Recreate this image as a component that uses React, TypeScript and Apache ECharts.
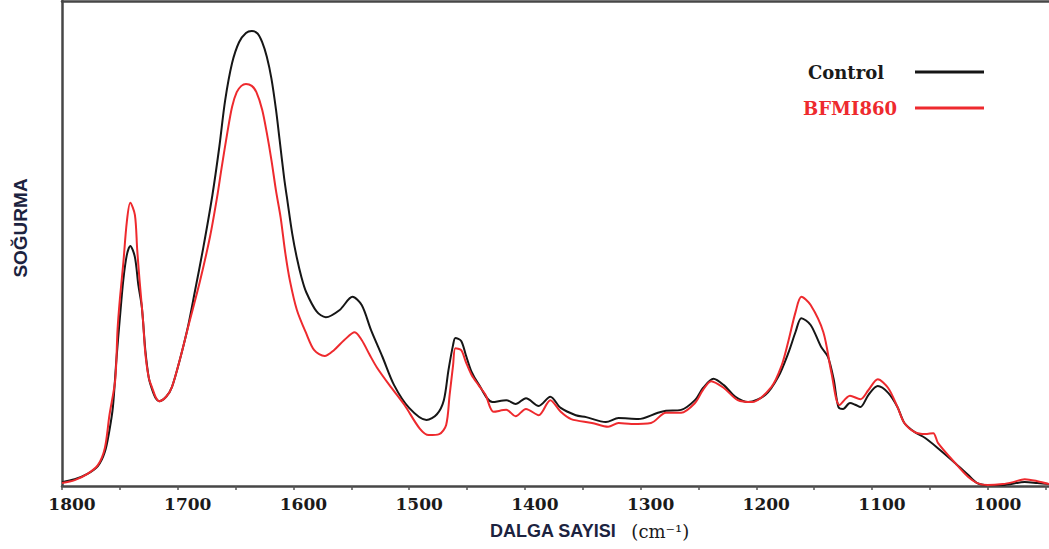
import React, { useEffect, useRef } from "react";
import * as echarts from "echarts";

// FTIR spectra: wavenumber (cm-1) vs absorbance (arbitrary units, 0..1)
const controlSpectrum: [number, number][] = [
  [1800, 0.008], [1789, 0.014], [1778, 0.025], [1769, 0.041], [1763, 0.07], [1759, 0.115],
  [1756, 0.163], [1753, 0.26], [1750, 0.346], [1747, 0.425], [1744, 0.476], [1741, 0.495],
  [1737, 0.472], [1734, 0.414], [1731, 0.369], [1728, 0.28], [1725, 0.223], [1722, 0.198],
  [1719, 0.181], [1716, 0.175], [1710, 0.184], [1705, 0.204], [1698, 0.262], [1691, 0.33],
  [1685, 0.403], [1678, 0.49], [1670, 0.6], [1664, 0.7], [1659, 0.795], [1653, 0.872],
  [1647, 0.915], [1641, 0.934], [1636, 0.938], [1631, 0.933], [1627, 0.915], [1623, 0.885],
  [1619, 0.84], [1615, 0.775], [1612, 0.715], [1608, 0.635], [1605, 0.585], [1601, 0.52],
  [1597, 0.47], [1593, 0.43], [1589, 0.4], [1580, 0.36], [1572, 0.348], [1560, 0.363],
  [1549, 0.39], [1541, 0.373], [1533, 0.322], [1523, 0.266], [1513, 0.208], [1500, 0.161],
  [1485, 0.136], [1476, 0.148], [1470, 0.177], [1466, 0.239], [1462, 0.291], [1460, 0.305],
  [1455, 0.299], [1451, 0.27], [1446, 0.235], [1440, 0.21], [1428, 0.173], [1416, 0.177],
  [1408, 0.169], [1399, 0.181], [1388, 0.165], [1378, 0.184], [1369, 0.161], [1356, 0.146],
  [1347, 0.142], [1330, 0.132], [1319, 0.14], [1302, 0.138], [1285, 0.151], [1278, 0.155],
  [1265, 0.157], [1253, 0.177], [1246, 0.202], [1237, 0.221], [1228, 0.208], [1218, 0.184],
  [1207, 0.173], [1192, 0.188], [1181, 0.225], [1172, 0.276], [1166, 0.318], [1161, 0.346],
  [1153, 0.332], [1144, 0.287], [1138, 0.266], [1133, 0.219], [1129, 0.163], [1125, 0.159],
  [1119, 0.171], [1114, 0.167], [1110, 0.163], [1103, 0.188], [1095, 0.206], [1086, 0.192],
  [1078, 0.163], [1072, 0.13], [1063, 0.111], [1054, 0.099], [1043, 0.078], [1028, 0.047],
  [1017, 0.023], [1009, 0.006], [1000, 0.002], [987, 0.002], [968, 0.008], [957, 0.006],
  [947, 0.004],
];

const bfmiSpectrum: [number, number][] = [
  [1800, 0.006], [1789, 0.012], [1778, 0.025], [1769, 0.043], [1763, 0.078], [1759, 0.146],
  [1754, 0.219], [1752, 0.322], [1750, 0.385], [1747, 0.46], [1744, 0.544], [1741, 0.584],
  [1737, 0.559], [1735, 0.487], [1733, 0.425], [1730, 0.342], [1728, 0.274], [1725, 0.223],
  [1722, 0.202], [1719, 0.183], [1716, 0.175], [1710, 0.184], [1705, 0.204], [1698, 0.262],
  [1691, 0.328], [1681, 0.42], [1672, 0.515], [1666, 0.595], [1662, 0.657], [1657, 0.73],
  [1653, 0.782], [1649, 0.812], [1645, 0.825], [1641, 0.829], [1636, 0.825], [1632, 0.812],
  [1627, 0.776], [1623, 0.728], [1619, 0.672], [1615, 0.608], [1611, 0.553], [1607, 0.48],
  [1603, 0.423], [1597, 0.363], [1589, 0.315], [1582, 0.28], [1573, 0.268], [1565, 0.28],
  [1556, 0.301], [1547, 0.317], [1541, 0.301], [1534, 0.27], [1528, 0.245], [1517, 0.208],
  [1504, 0.167], [1491, 0.119], [1483, 0.105], [1474, 0.107], [1468, 0.126], [1465, 0.188],
  [1462, 0.249], [1460, 0.284], [1455, 0.28], [1451, 0.256], [1446, 0.229], [1440, 0.208],
  [1434, 0.188], [1427, 0.153], [1416, 0.157], [1408, 0.144], [1399, 0.159], [1388, 0.146],
  [1378, 0.177], [1369, 0.153], [1360, 0.138], [1342, 0.13], [1328, 0.122], [1319, 0.13],
  [1308, 0.128], [1291, 0.13], [1278, 0.151], [1265, 0.151], [1253, 0.171], [1246, 0.198],
  [1239, 0.216], [1228, 0.202], [1216, 0.177], [1204, 0.173], [1187, 0.204], [1178, 0.249],
  [1172, 0.301], [1166, 0.359], [1161, 0.39], [1153, 0.373], [1142, 0.317], [1135, 0.233],
  [1128, 0.167], [1119, 0.186], [1110, 0.179], [1103, 0.198], [1095, 0.22], [1086, 0.202],
  [1078, 0.163], [1072, 0.13], [1063, 0.111], [1054, 0.107], [1047, 0.109], [1043, 0.089],
  [1028, 0.047], [1017, 0.019], [1009, 0.006], [1000, 0.002], [987, 0.004], [978, 0.008],
  [968, 0.014], [957, 0.01], [947, 0.004],
];

const xLabelValues = [1800, 1700, 1600, 1500, 1400, 1300, 1200, 1100, 1000];
const xTickValues = [1800, 1750, 1700, 1650, 1600, 1550, 1500, 1450, 1400, 1350, 1300, 1250, 1200, 1150, 1100, 1050, 1000, 950];

const seriesNames = ["Control", "BFMI860"];
const seriesColors = ["#161616", "#ee2a2e"];

const X_MIN = 947;
const X_MAX = 1800;

export default function App() {
  const ref = useRef<HTMLDivElement>(null);

  useEffect(() => {
    if (!ref.current) return;
    const chart = echarts.init(ref.current, undefined, { renderer: "svg" });

    const legendText = {
      fontFamily: "DejaVu Serif",
      fontWeight: "bold" as const,
      fontSize: 18,
      lineHeight: 20,
    };

    chart.setOption({
      animation: false,
      backgroundColor: "#ffffff",
      grid: { left: 62, right: 0, top: 1, bottom: 63 },
      legend: [
        {
          data: [{ name: seriesNames[0], textStyle: { color: "#1a1a1a" } }],
          right: 65,
          top: 62,
          padding: 0,
          align: "right",
          icon: "rect",
          itemWidth: 69,
          itemHeight: 3,
          selectedMode: false,
          textStyle: { ...legendText, padding: [0, 26, 0, 0] },
        },
        {
          data: [{ name: seriesNames[1], textStyle: { color: seriesColors[1] } }],
          right: 65,
          top: 98,
          padding: 0,
          align: "right",
          icon: "rect",
          itemWidth: 69,
          itemHeight: 3,
          selectedMode: false,
          textStyle: { ...legendText, padding: [0, 13, 0, 0] },
        },
      ],
      xAxis: [
        {
          type: "value",
          inverse: true,
          min: X_MIN,
          max: X_MAX,
          position: "bottom",
          splitLine: { show: false },
          axisLine: { show: true, lineStyle: { color: "#474747", width: 2.5 } },
          axisTick: {
            show: true,
            inside: false,
            length: 4,
            customValues: xTickValues,
            lineStyle: { color: "#555", width: 1.5 },
          },
          axisLabel: {
            customValues: xLabelValues,
            formatter: (v: number) => String(v),
            margin: 9,
            padding: [0, 0, 0, 20],
            fontFamily: "DejaVu Serif",
            fontWeight: "bold",
            fontSize: 17,
            color: "#1a1a1a",
          },
        },
        {
          type: "value",
          inverse: true,
          min: X_MIN,
          max: X_MAX,
          position: "top",
          splitLine: { show: false },
          axisLine: { show: true, lineStyle: { color: "#474747", width: 2.5 } },
          axisTick: { show: false },
          axisLabel: { show: false },
        },
      ],
      yAxis: {
        type: "value",
        min: 0,
        max: 1,
        splitLine: { show: false },
        axisLine: { show: true, lineStyle: { color: "#474747", width: 2.5 } },
        axisTick: { show: false },
        axisLabel: { show: false },
      },
      graphic: [
        {
          type: "text",
          x: 20,
          y: 228,
          rotation: Math.PI / 2,
          style: {
            text: "SOĞURMA",
            fontFamily: "Liberation Sans",
            fontWeight: "bold",
            fontSize: 19,
            fill: "#1c2340",
            align: "center",
            verticalAlign: "middle",
          },
        },
        {
          type: "text",
          x: 490,
          y: 531,
          style: {
            text: "{a|DALGA SAYISI}{b|(cm⁻¹)}",
            verticalAlign: "middle",
            align: "left",
            rich: {
              a: {
                fontFamily: "Liberation Sans",
                fontWeight: "bold",
                fontSize: 18,
                fill: "#1c2340",
              },
              b: {
                fontFamily: "DejaVu Serif",
                fontSize: 18,
                fill: "#1a1a1a",
                padding: [0, 0, 0, 15],
              },
            },
          },
        },
      ],
      series: [
        {
          name: seriesNames[0],
          type: "line",
          data: controlSpectrum,
          smooth: 0.3,
          symbol: "none",
          lineStyle: { color: seriesColors[0], width: 2 },
          itemStyle: { color: seriesColors[0] },
          z: 2,
        },
        {
          name: seriesNames[1],
          type: "line",
          data: bfmiSpectrum,
          smooth: 0.3,
          symbol: "none",
          lineStyle: { color: seriesColors[1], width: 2 },
          itemStyle: { color: seriesColors[1] },
          z: 3,
        },
      ],
    });

    return () => chart.dispose();
  }, []);

  return (
    <div
      ref={ref}
      style={{ position: "absolute", left: 0, top: 0, width: 1049, height: 549 }}
    />
  );
}
